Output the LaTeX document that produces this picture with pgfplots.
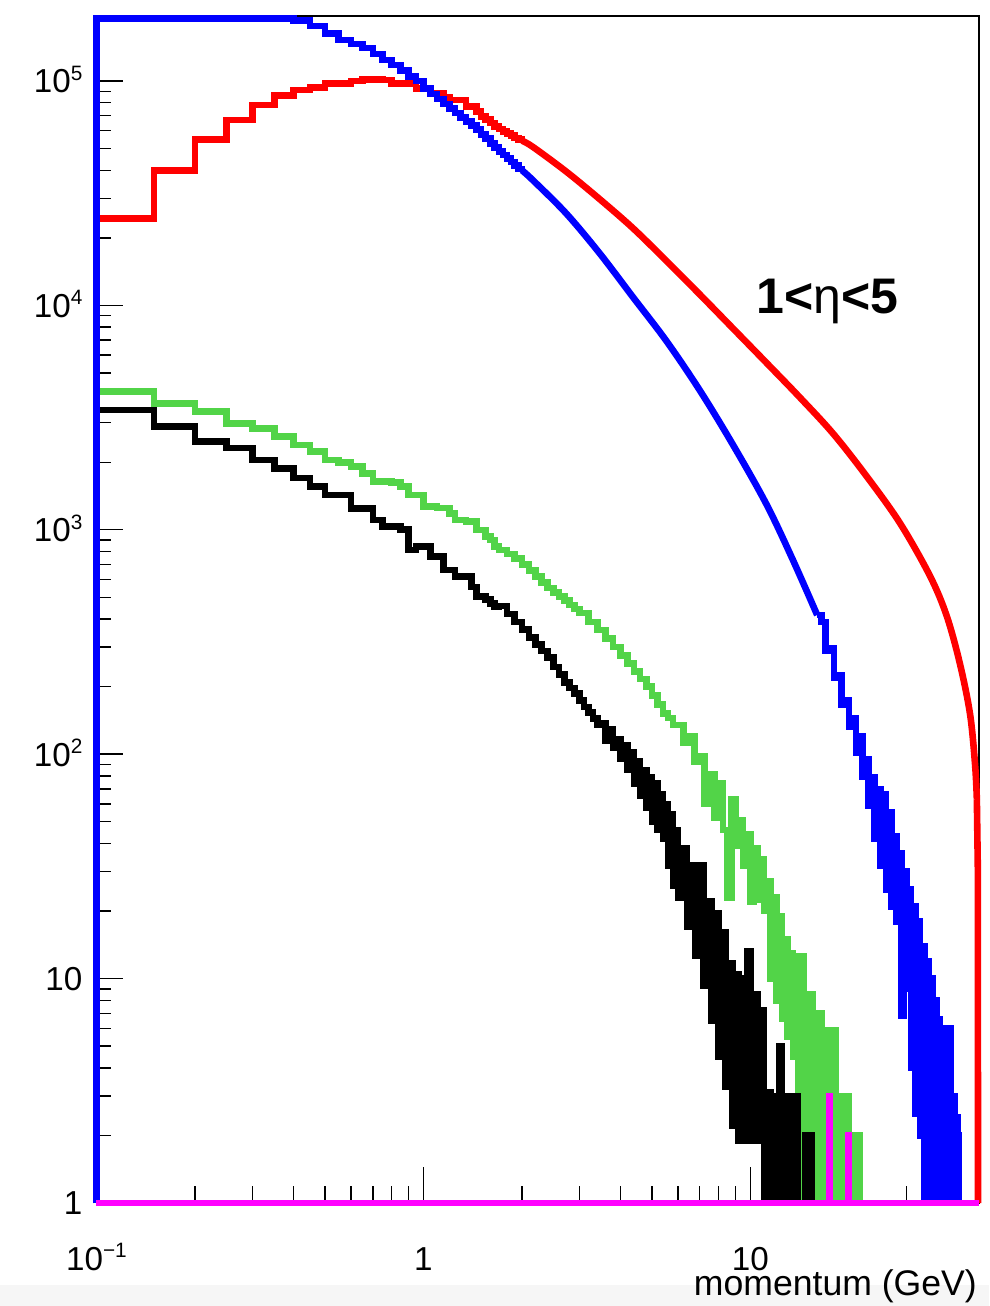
\documentclass[border=0pt]{standalone}
\usepackage{fontspec}
\setmainfont{Liberation Sans}
\usepackage{pgfplots}
\pgfplotsset{compat=1.18}
\definecolor{rootred}{RGB}{255,0,0}
\definecolor{rootblue}{RGB}{0,0,255}
\definecolor{rootgreen}{RGB}{82,212,72}
\definecolor{rootmag}{RGB}{255,0,255}
\definecolor{shotgray}{RGB}{246,246,246}
\newcommand{\sups}[1]{\raisebox{3.1pt}{\fontsize{5.2}{6}\selectfont #1}}

\pgfplotsset{
  rootframe/.style={
    at={(0pt,0pt)}, anchor=south west,
    scale only axis, width=220.625pt, height=296.75pt,
    xmin=0.1, xmax=50, ymin=1, ymax=194800,
    axis line style={line width=0.4pt},
    tick style={black, line width=0.35pt},
    tick align=inside,
    tick label style={font=\fontsize{8.3}{10}\selectfont},
  },
  hist/.style={const plot mark left, line width=1.65pt, line join=miter, mark=none},
  histline/.style={smooth, tension=0.55, line width=1.65pt, line join=round, mark=none},
  histdrop/.style={sharp plot, line width=1.65pt, line join=round, mark=none},
}

\begin{document}
\begin{tikzpicture}
\fill[shotgray] (-24.125pt,-25.75pt) rectangle (223.125pt,-20.5pt);

% frame, x ticks and x label
\begin{loglogaxis}[rootframe,
  xtick={0.1,1,10}, xticklabels={10\sups{−1},1,10},
  minor xtick={0.2,0.3,0.4,0.5,0.6,0.7,0.8,0.9,2,3,4,5,6,7,8,9,20,30,40},
  xtick pos=bottom, ytick=\empty,
  major tick length=9.1pt, minor tick length=4.3pt,
  xticklabel style={anchor=base, yshift=-16.75pt},
  xlabel={momentum (GeV)},
  xlabel style={at={(rel axis cs:1,0)}, anchor=base east, yshift=-23pt, xshift=3pt,
    font=\fontsize{8.9}{11}\selectfont},
]
\end{loglogaxis}

% histograms and y ticks
\begin{loglogaxis}[rootframe, clip=false,
  ytick={1,10,100,1000,10000,100000},
  yticklabels={1,10,{10\sups{2}},{10\sups{3}},{10\sups{4}},{10\sups{5}}},
  minor ytick={2,3,4,5,6,7,8,9,20,30,40,50,60,70,80,90,200,300,400,500,600,700,800,900,
    2000,3000,4000,5000,6000,7000,8000,9000,20000,30000,40000,50000,60000,70000,80000,90000},
  ytick pos=left, xtick=\empty,
  major tick length=6.7pt, minor tick length=3.6pt,
  yticklabel style={anchor=base east, yshift=-2.97pt},
]
% red, low momentum bins
\addplot[hist, rootred] table {
x y
0.1 1
0.1 24400
0.15 39800
0.2 55000
0.25 67000
0.3 78000
0.35 86000
0.4 91200
0.45 93800
0.5 97700
0.55 97700
0.6 100000
0.65 101800
0.7 101800
0.75 101000
0.8 97700
0.85 97700
0.9 97700
0.95 92800
1.0 92800
1.05 88200
1.1 88200
1.15 85000
1.2 82200
1.25 82200
1.3 82200
1.35 76900
1.4 76900
1.45 73000
1.5 69600
1.55 67200
1.6 64900
1.65 62800
1.7 61000
1.75 59600
1.8 58300
1.85 57000
1.9 55800
1.95 54700
2.0 54200
};
% red, fine bins
\addplot[histline, rootred] table {
x y
2.0 54200
2.158 50900
2.731 39500
3.454 29800
4.369 22100
5.529 15800
6.994 11200
8.845 7890
11.19 5550
14.16 3890
17.91 2680
22.67 1730
28.67 1070
35.42 622
39.86 412
43.77 251
46.97 150
48.66 89
49.25 63
};
\addplot[histdrop, rootred] table {
x y
49.25 63
49.6 30
49.65 1
};
% green
\addplot[hist, rootgreen] table {
x y
0.1 1
0.1 4130
0.15 3660
0.2 3360
0.25 2980
0.3 2830
0.35 2600
0.4 2390
0.45 2230
0.5 2050
0.55 2000
0.6 1910
0.65 1785
0.7 1640
0.75 1640
0.8 1620
0.85 1556
0.9 1430
0.95 1430
1.0 1267
1.05 1267
1.1 1250
1.15 1250
1.2 1184
1.25 1106
1.3 1106
1.35 1090
1.4 1090
1.45 998
1.5 998
1.55 931
1.6 902
1.65 841
1.7 813
1.8 780
1.9 745
2.0 700
2.1 658
2.2 618
2.3 582
2.4 550
2.5 527
2.6 505
2.7 483
2.8 463
2.9 444
3.0 425
3.2 389
3.4 357
3.6 327
3.8 300
4.0 275
4.2 253
4.4 233
4.6 216
4.8 200
5.0 183
5.2 167
5.4 152
5.6 145
5.8 135
6.0 135
6.25 112
6.5 120
6.75 93
7.0 98
7.25 60
7.5 81
7.75 52
8.0 74
8.25 46
8.5 23
8.75 63
9.0 39
9.25 51
9.5 32
9.75 44
10.0 22
10.25 38
10.5 22.4
10.75 34
11.0 20
11.25 27
11.5 10
11.75 23
12.0 8
12.25 19
12.5 6.6
12.75 15
13.0 5.5
13.25 13
13.5 4.5
13.75 12.6
14.0 3
14.25 12.6
14.5 1
15.0 8.5
15.5 1
16.0 7
16.5 1
17.0 5.9
17.5 1
18.0 5.9
18.25 1
18.5 3
19.0 1
19.5 3
20.0 1
20.5 2
21.0 1
21.5 2
21.6 1
};
% black
\addplot[hist, black] table {
x y
0.1 1
0.1 3420
0.15 2880
0.2 2470
0.25 2310
0.3 2050
0.35 1880
0.4 1700
0.45 1556
0.5 1430
0.55 1430
0.6 1247
0.65 1247
0.7 1106
0.75 1033
0.8 1033
0.85 1000
0.9 813
0.95 841
1.0 841
1.05 759
1.1 759
1.15 662
1.2 662
1.25 618
1.3 618
1.35 618
1.4 557
1.45 504
1.5 504
1.55 490
1.6 470
1.65 455
1.7 457
1.8 422
1.9 389
2.0 359
2.1 331
2.2 309
2.3 288
2.4 269
2.5 245
2.6 226
2.7 209
2.8 197
2.9 186
3.0 174
3.1 162
3.2 153
3.3 144
3.4 135
3.5 138
3.6 115
3.7 129
3.8 107
3.9 117
4.0 95
4.1 110
4.2 85
4.3 102
4.4 74
4.5 93
4.6 65
4.7 85
4.8 58
4.9 79
5.0 50
5.1 74
5.2 46
5.3 66
5.4 42
5.5 60
5.6 32
5.7 54
5.8 26
5.9 46
6.0 23
6.2 38
6.4 17
6.6 32
6.8 12.6
7.0 32
7.2 9.3
7.4 22
7.6 6.5
7.8 19.5
8.0 4.5
8.2 16
8.4 3.3
8.6 11.7
8.8 2.2
9.0 10.5
9.2 1.9
9.4 10
9.6 1.9
9.8 13.2
10.0 1.9
10.25 8.5
10.5 1.9
10.75 7.2
11.0 1
11.25 3.1
11.5 1
11.75 3
12.0 1
12.25 5
12.5 1
12.75 3
13.0 1
13.25 3
13.5 1
13.75 3
13.9 1
14.7 2
15.4 1
};
% blue, low momentum bins
\addplot[hist, rootblue] table {
x y
0.1 1
0.1 190000
0.4 186000
0.45 176000
0.5 163000
0.55 152000
0.6 146000
0.65 140000
0.7 132000
0.75 124000
0.8 118000
0.85 111000
0.9 105000
0.95 100000
1.0 92500
1.05 87500
1.1 83000
1.15 78900
1.2 75300
1.25 71900
1.3 68800
1.35 65900
1.4 63200
1.45 60800
1.5 57900
1.55 55300
1.6 52800
1.65 50600
1.7 48500
1.75 46800
1.8 45100
1.85 43500
1.9 42100
1.95 40600
2.0 40000
};
% blue, fine bins
\addplot[histline, rootblue] table {
x y
2.0 40000
2.158 36200
2.731 25700
3.454 17100
4.369 10900
5.529 6950
6.994 4190
8.845 2390
11.19 1300
13.5 731
16 417
};
% blue, sparse tail
\addplot[hist, rootblue] table {
x y
16 417
16.5 389
17 288
17.5 295
18 219
18.5 224
19 166
19.5 174
20 132
20.5 145
21 102
21.5 120
22 79
22.5 95
23 59
23.5 79
24 42
24.5 70
25 32
25.5 66
26 25
26.5 55
27 21
27.5 43
28 18
28.5 36
29 6.8
29.5 30
30 9
30.5 25
31 4
31.5 21
32 2.5
32.5 18
33 2
33.5 14
34 1
34.5 12
35 1
35.5 10
36 1
36.5 8
37 1
37.5 6.6
38 1
38.5 5.5
39 1
39.5 6
40 1
40.5 6
41 1
41.5 3
42 1
42.5 2.4
43 2
43.3 1
};
% magenta
\addplot[hist, rootmag] table {
x y
0.1 1
17.45 3
17.5 1
19.9 2
19.95 1
50 1
};
\node[anchor=base, font=\fontsize{12.5}{15}\selectfont] at (axis cs:17.2,9220)
  {\textbf{1<}η\textbf{<5}};
\end{loglogaxis}

\pgfresetboundingbox
\path (-24.125pt,-25.75pt) rectangle (223.125pt,300.75pt);
\end{tikzpicture}
\end{document}
